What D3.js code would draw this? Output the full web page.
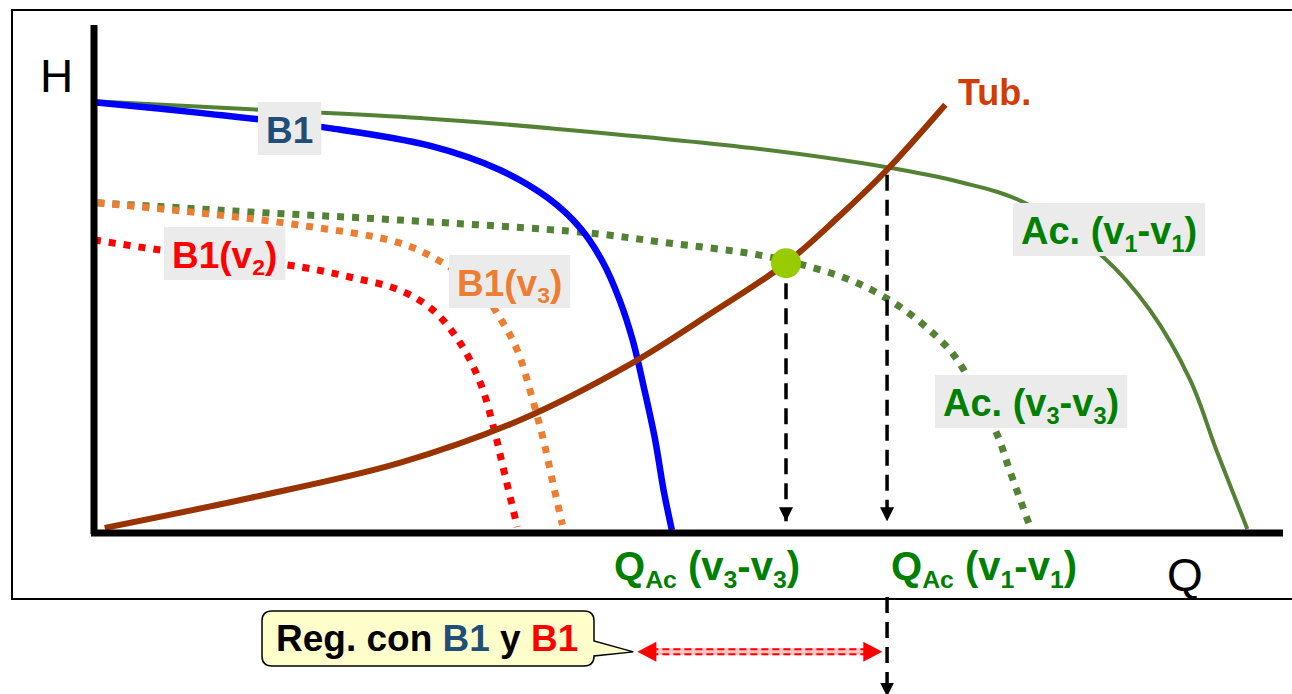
<!DOCTYPE html>
<html>
<head>
<meta charset="utf-8">
<script src="https://cdn.jsdelivr.net/npm/d3@7"></script>
<style>
  html, body { margin: 0; padding: 0; background: #fff; }
  svg { display: block; font-family: "Liberation Sans", Arial, sans-serif; }
</style>
</head>
<body>
<svg id="chart" width="1292" height="694"></svg>
<script>
// curves as [Q, H] in axis units (0..100)
const acV1 = [[0, 85.0], [14.0, 83.3], [27.4, 81.7], [39.2, 79.5], [56.0, 75.6], [66.7, 72.0], [72.8, 69.1],
    [78.1, 65.2], [84.9, 54.3], [88.8, 43.9], [92.2, 30.1], [94.4, 16.3], [97.0, 0.8]];
const b1 = [[0, 84.8], [8.9, 82.7], [19.8, 79.7], [28.3, 76.2], [34.1, 71.5], [38.2, 65.9], [40.9, 60.0],
    [42.8, 53.3], [44.2, 45.9], [45.3, 38.0], [46.3, 28.1], [47.2, 18.3], [47.9, 8.5], [48.6, 0.6]];
const acV3 = [[0.3, 65.0], [13.1, 63.2], [25.7, 61.6], [41.5, 59.1], [47.6, 57.3], [56.0, 54.7], [60.5, 52.2],
    [64.2, 49.2], [67.8, 44.5], [70.9, 38.6], [72.6, 34.1], [75.9, 19.7], [77.0, 12.4], [78.7, 1.4]];
const b1V3 = [[0.3, 65.0], [8.9, 63.0], [17.3, 60.6], [25.7, 57.1], [29.4, 53.1], [32.5, 47.8], [34.1, 42.5],
    [35.6, 36.0], [36.9, 26.2], [37.8, 18.3], [38.6, 9.8], [39.4, 1.6]];
const b1V2 = [[0, 57.7], [5.6, 55.7], [17.3, 52.4], [21.5, 50.4], [25.7, 47.8], [28.5, 43.9], [30.8, 37.4],
    [32.5, 29.5], [33.6, 20.9], [34.4, 13.0], [35.6, 1.2]];
const tub = [[0.9, 1.0], [13.1, 6.9], [25.7, 13.8], [35.8, 22.2], [45.3, 33.5], [51.8, 43.1],
    [58.2, 53.1], [62.7, 62.4], [66.7, 71.5], [71.6, 84.3]];

// operating points
const opV3 = [58.2, 53.1];
const qV1 = 66.7;

const svg = d3.select("#chart");
const x = d3.scaleLinear().domain([0, 100]).range([94, 1283]);
const y = d3.scaleLinear().domain([0, 100]).range([533, 25]);

const line = d3.line().x(d => x(d[0])).y(d => y(d[1])).curve(d3.curveCatmullRom.alpha(0.5));

// outer frame
svg.append("rect")
    .attr("x", 12).attr("y", 10)
    .attr("width", 1300).attr("height", 589)
    .attr("fill", "none").attr("stroke", "#000").attr("stroke-width", 2);

const defs = svg.append("defs");
defs.append("marker")
    .attr("id", "blackHead")
    .attr("markerUnits", "userSpaceOnUse")
    .attr("viewBox", "0 0 14 14")
    .attr("refX", 14).attr("refY", 7)
    .attr("markerWidth", 14).attr("markerHeight", 14)
    .attr("orient", "auto")
    .append("path").attr("d", "M0,0 L14,7 L0,14 Z").attr("fill", "#000");

// curves
const curves = [
    { data: acV1, color: "#548235", width: 4, dash: null },
    { data: acV3, color: "#548235", width: 7, dash: "7,8" },
    { data: b1V3, color: "#ed7d31", width: 7, dash: "7,8" },
    { data: b1V2, color: "#ff0000", width: 7, dash: "7,8" },
    { data: b1, color: "#0000ff", width: 6.5, dash: null },
    { data: tub, color: "#993300", width: 6, dash: null }
];
svg.append("g").selectAll("path")
    .data(curves)
    .enter()
    .append("path")
    .attr("d", d => line(d.data))
    .attr("fill", "none")
    .attr("stroke", d => d.color)
    .attr("stroke-width", d => d.width)
    .attr("stroke-dasharray", d => d.dash);

// axes
svg.append("line")
    .attr("x1", x(0)).attr("x2", x(0))
    .attr("y1", y(100)).attr("y2", y(0) + 1)
    .attr("stroke", "#000").attr("stroke-width", 7);
svg.append("line")
    .attr("x1", x(0) - 3).attr("x2", x(100))
    .attr("y1", y(0)).attr("y2", y(0))
    .attr("stroke", "#000").attr("stroke-width", 7);

// dashed drop lines
const drops = [
    [opV3[0], y.invert(y(opV3[1]) + 20), 2.3],
    [qV1, y.invert(y(71.5) + 5), 2.3],
    [qV1, -12.6, -32.2]
];
svg.append("g").selectAll("line")
    .data(drops)
    .enter()
    .append("line")
    .attr("x1", d => x(d[0])).attr("x2", d => x(d[0]))
    .attr("y1", d => y(d[1])).attr("y2", d => y(d[2]))
    .attr("stroke", "#000").attr("stroke-width", 3.5)
    .attr("stroke-dasharray", "16,9")
    .attr("marker-end", "url(#blackHead)");

// operating point
svg.append("circle")
    .attr("cx", x(opV3[0])).attr("cy", y(opV3[1]))
    .attr("r", 15).attr("fill", "#99cc00");

// red double arrow (regulation range)
const reg = [45.7, 66.3], regH = -23.4;
const ra = svg.append("g");
ra.append("line")
    .attr("x1", x(reg[0]) + 14).attr("x2", x(reg[1]) - 14)
    .attr("y1", y(regH)).attr("y2", y(regH))
    .attr("stroke", "#ffc4c4").attr("stroke-width", 7);
[-2.5, 2.5].forEach(off => {
    ra.append("line")
        .attr("x1", x(reg[0]) + 14).attr("x2", x(reg[1]) - 14)
        .attr("y1", y(regH) + off).attr("y2", y(regH) + off)
        .attr("stroke", "#ff0000").attr("stroke-width", 2)
        .attr("stroke-dasharray", "7,4");
});
ra.append("path")
    .attr("d", `M${x(reg[0]) + 19},${y(regH) - 10} L${x(reg[0])},${y(regH)} L${x(reg[0]) + 19},${y(regH) + 10} Z`)
    .attr("fill", "#ff0000");
ra.append("path")
    .attr("d", `M${x(reg[1]) - 19},${y(regH) - 10} L${x(reg[1])},${y(regH)} L${x(reg[1]) - 19},${y(regH) + 10} Z`)
    .attr("fill", "#ff0000");

// text helpers
function richText(g, parts, size, color) {
    const t = g.append("text")
        .attr("font-size", size)
        .attr("font-weight", "bold")
        .attr("fill", color);
    let shifted = false;
    parts.forEach(p => {
        const sub = p[1];
        const ts = t.append("tspan").text(p[0]);
        if (sub && !shifted) { ts.attr("dy", size * 0.2).attr("font-size", size * 0.62); shifted = true; }
        else if (sub) { ts.attr("font-size", size * 0.62); }
        else if (shifted) { ts.attr("dy", -size * 0.2); shifted = false; }
        if (p[2]) ts.attr("fill", p[2]);
    });
    return t;
}

// boxed curve labels: [parts, color, left x(px), baseline(px), font size]
const boxLabels = [
    [[["B1"]], "#1f4e79", 266, 143, 37],
    [[["B1(v"], ["2", true], [")"]], "#ff0000", 172, 268, 37],
    [[["B1(v"], ["3", true], [")"]], "#ed7d31", 457, 296, 37],
    [[["Ac. (v"], ["1", true], ["-v"], ["1", true], [")"]], "#008000", 1021, 244, 38],
    [[["Ac. (v"], ["3", true], ["-v"], ["3", true], [")"]], "#008000", 943, 416, 38]
];
boxLabels.forEach(l => {
    const g = svg.append("g");
    const rect = g.append("rect").attr("fill", "#ebebeb");
    const t = richText(g, l[0], l[4], l[1]).attr("x", l[2]).attr("y", l[3]);
    const bb = t.node().getBBox();
    rect.attr("x", bb.x - 8).attr("y", l[3] - 41)
        .attr("width", bb.width + 16).attr("height", 53);
});

// plain labels
richText(svg, [["Tub."]], 36, "#d33c06").attr("x", 958).attr("y", 105);
richText(svg, [["Q"], ["Ac", true], [" (v"], ["3", true], ["-v"], ["3", true], [")"]], 40, "#008000")
    .attr("x", 614).attr("y", 580);
richText(svg, [["Q"], ["Ac", true], [" (v"], ["1", true], ["-v"], ["1", true], [")"]], 40, "#008000")
    .attr("x", 891).attr("y", 580);

svg.append("text").attr("x", 40).attr("y", 92).attr("font-size", 46).text("H");
svg.append("text").attr("x", 1167).attr("y", 591).attr("font-size", 46).text("Q");

// callout
const cx0 = 262, cy0 = 611, cx1 = 594, cy1 = 666, r = 10;
const tip = [x(reg[0]) - 4, y(regH)];
svg.append("path")
    .attr("d", `M${cx0 + r},${cy0} H${cx1 - r} Q${cx1},${cy0} ${cx1},${cy0 + r} V641 L${tip[0]},${tip[1]} L${cx1},656 V${cy1 - r}
        Q${cx1},${cy1} ${cx1 - r},${cy1} H${cx0 + r} Q${cx0},${cy1} ${cx0},${cy1 - r} V${cy0 + r} Q${cx0},${cy0} ${cx0 + r},${cy0} Z`)
    .attr("fill", "#ffffcc").attr("stroke", "#000").attr("stroke-width", 1.5);
richText(svg, [["Reg. con "], ["B1", false, "#1f4e79"], [" y "], ["B1", false, "#ff0000"]], 37, "#000")
    .attr("x", 276).attr("y", 651);
</script>
</body>
</html>
